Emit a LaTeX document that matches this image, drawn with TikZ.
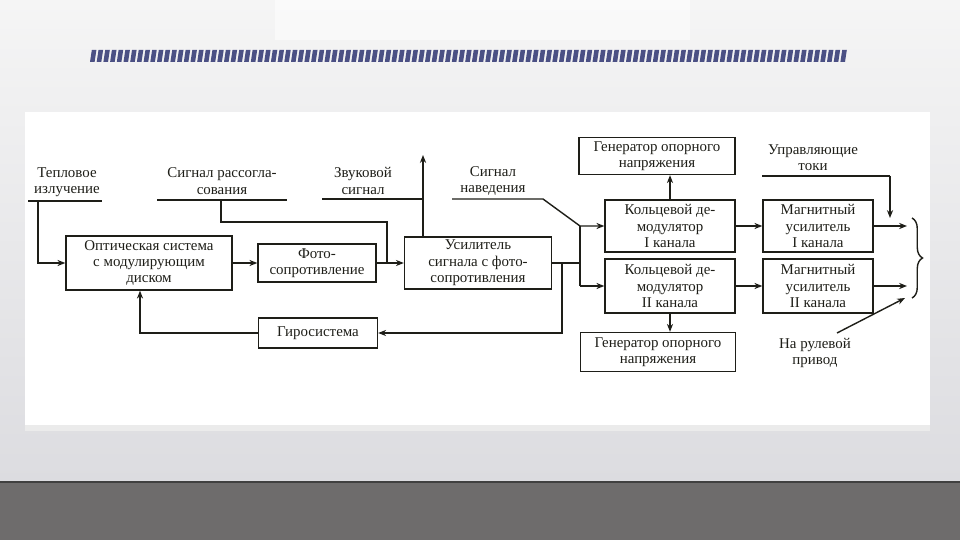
\documentclass[tikz,border=0pt]{standalone}
\usepackage{fontspec}
\setmainfont{Liberation Serif}
\usetikzlibrary{arrows.meta,decorations.pathreplacing}
\definecolor{ink}{HTML}{1E1E18}
\definecolor{slidetop}{HTML}{F5F5F5}
\definecolor{slide}{HTML}{DCDCE0}
\definecolor{floor}{HTML}{6E6C6C}
\definecolor{bar}{HTML}{4B5084}
\begin{document}
\begin{tikzpicture}[x=0.02cm,y=-0.02cm]
  \tikzset{ blk/.style={draw=ink,line width=0.8pt,fill=white,align=center,inner sep=1pt,
      font=\fontsize{8.5}{9.3}\selectfont,text=ink},
    lbl/.style={align=center,inner sep=0pt,font=\fontsize{8.5}{9.3}\selectfont,text=ink},
    ln/.style={draw=ink,line width=0.8pt},
    arr/.style={ln,-{Stealth[length=4.5pt,width=3.5pt]}},
  }
  \useasboundingbox (0,0) rectangle (960,540);
  % the slide
  \shade[top color=slidetop,bottom color=slide] (0,0) rectangle (960,482);
  \fill[white,opacity=0.5] (275,0) rectangle (690,40);
  \fill[floor] (0,482) rectangle (960,540);
  \draw[black!75,line width=0.8pt] (0,482) -- (960,482);
  \foreach \i in {0,...,112}
    \fill[bar] ({90+6.7*\i},62) -- ++(4.6,0) -- ++(1.8,-12) -- ++(-4.6,0) -- cycle;
  \fill[black!8] (25,113) rectangle (930,431);
  \fill[white] (25,112) rectangle (930,425);

  % the blocks
  \node[blk,minimum width=3.32cm,minimum height=1.08cm] (opt) at (149,263)
    {Оптическая система\\с модулирующим\\диском};
  \node[blk,minimum width=2.36cm,minimum height=0.76cm] (foto) at (317,263)
    {Фото-\\сопротивление};
  \node[blk,minimum width=2.94cm,minimum height=1.04cm] (amp) at (478,263)
    {Усилитель\\сигнала с фото-\\сопротивления};
  \node[blk,minimum width=2.38cm,minimum height=0.6cm] (gyro) at (318,333) {Гиросистема};
  \node[blk,minimum width=3.12cm,minimum height=0.74cm] (gen1) at (657,156)
    {Генератор опорного\\напряжения};
  \node[blk,minimum width=2.6cm,minimum height=1.04cm] (dem1) at (670,226)
    {Кольцевой де-\\модулятор\\I канала};
  \node[blk,minimum width=2.6cm,minimum height=1.08cm] (dem2) at (670,286)
    {Кольцевой де-\\модулятор\\II канала};
  \node[blk,minimum width=2.2cm,minimum height=1.04cm] (mag1) at (818,226)
    {Магнитный\\усилитель\\I канала};
  \node[blk,minimum width=2.2cm,minimum height=1.08cm] (mag2) at (818,286)
    {Магнитный\\усилитель\\II канала};
  \node[blk,minimum width=3.1cm,minimum height=0.78cm] (gen2) at (658,352)
    {Генератор опорного\\напряжения};

  % the signals
  \node[lbl] (heat) at (67,182) {Тепловое\\излучение};
  \node[lbl] (mis) at (222,181) {Сигнал рассогла-\\сования};
  \node[lbl] (snd) at (363,181) {Звуковой\\сигнал};
  \node[lbl] (nav) at (493,181) {Сигнал\\наведения};
  \node[lbl] (ctl) at (813,158) {Управляющие\\токи};
  \node[lbl] (steer) at (815,353) {На рулевой\\привод};

  \coordinate (h1) at (28,201);  \coordinate (h2) at (102,201); \coordinate (hd) at (38,201);
  \coordinate (m1) at (157,200); \coordinate (m2) at (287,200); \coordinate (md) at (221,200);
  \coordinate (mj) at (387,222);
  \coordinate (s1) at (322,199); \coordinate (s2) at (423,199); \coordinate (sup) at (423,155);
  \coordinate (n1) at (452,199); \coordinate (n2) at (543,199); \coordinate (n3) at (580,226);
  \coordinate (bb) at (580,286); \coordinate (gj) at (562,263); \coordinate (gb) at (140,333);
  \coordinate (u1) at (762,176); \coordinate (u2) at (890,176); \coordinate (u3) at (890,218);
  \coordinate (o1) at (907,226); \coordinate (o2) at (907,286);
  \coordinate (r1) at (837,333); \coordinate (r2) at (905,298);
  \coordinate (b1) at (912,218); \coordinate (b2) at (912,298);

  % the connections
  \draw[ln] (h1) -- (h2);
  \draw[arr] (hd) |- (opt.west);
  \draw[arr] (opt) -- (foto);
  \draw[ln] (m1) -- (m2);
  \draw[ln] (md) |- (mj) -- (mj |- foto.east);
  \draw[arr] (foto) -- (amp);
  \draw[ln] (s1) -- (s2);
  \draw[arr] (s2 |- amp.north) -- (sup);
  \draw[arr] (n1) -- (n2) -- (n3) -- (dem1);
  \draw[ln] (n3) -- (bb);
  \draw[arr] (bb) -- (dem2);
  \draw[ln] (amp.east) -- (amp.east -| n3);
  \draw[arr] (gj) |- (gyro.east);
  \draw[arr] (gyro.west) -- (gb) -- (gb |- opt.south);
  \draw[arr] (dem1.north) -- (dem1.north |- gen1.south);
  \draw[arr] (dem2.south) -- (dem2.south |- gen2.north);
  \draw[arr] (dem1) -- (mag1);
  \draw[arr] (dem2) -- (mag2);
  \draw[arr] (mag1) -- (o1);
  \draw[arr] (mag2) -- (o2);
  \draw[ln] (u1) -- (u2);
  \draw[arr] (u2) -- (u3);
  \draw[arr] (r1) -- (r2);
  \draw[ln,decorate,decoration={brace,amplitude=6pt}] (b1) -- (b2);
\end{tikzpicture}
\end{document}
